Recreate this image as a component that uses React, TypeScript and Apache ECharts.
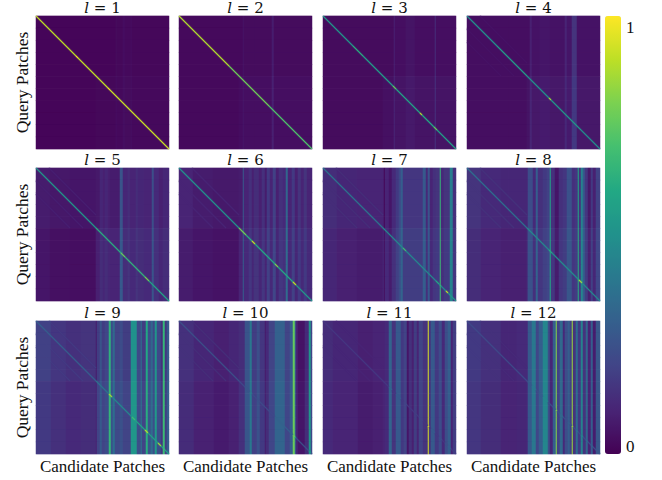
import React, { useEffect, useRef } from "react";
import * as echarts from "echarts";

type Run = [number, number];

const layers = [1, 2, 3, 4, 5, 6, 7, 8, 9, 10, 11, 12];
const axisSize = 133;
const rowCount = 11;
const upperRows = 5;
const blockColumn = 60;
const viridis = ["#440154", "#482475", "#414487", "#355f8d", "#2a788e", "#21918c", "#22a884", "#44bf70", "#7ad151", "#bddf26", "#fde725"];

// Column brightness as [column count, value 0..100]
const columnsL1: Run[] = [[80,1.5],[1,3],[6,2],[2,3.5],[6,2.5],[1,3.5],[37,2]];
const columnsL2: Run[] = [[64,2.5],[1,5],[28,3],[2,8],[38,3]];
const columnsL3: Run[] = [[71,3],[1,9],[11,4],[9,5.5],[20,4],[1,13],[20,4]];
const columnsL4: Run[] = [[63,4],[2,9],[8,5],[10,6],[15,5],[2,10],[5,6],[5,15],[23,5]];
const columnsL5: Run[] = [[14,8],[20,6.5],[26,6],[4,7],[3,11],[2,9],[3,11],[2,9],[10,8],[3,26],[5,11],[2,13],[6,10],[2,13],[6,11],[8,10],[2,24],[5,12],[4,9],[6,11]];
const columnsL6: Run[] = [[14,10],[20,8],[26,7],[4,8],[1,28],[5,10],[3,14],[2,9],[5,13],[3,9],[3,14],[2,8],[3,17],[3,10],[3,19],[3,9],[4,14],[3,12],[2,33],[4,10],[3,17],[3,9],[3,15],[3,10],[3,15],[5,10]];
const columnsL7: Run[] = [[14,13],[20,11],[27,10],[1,1],[4,10],[3,6],[4,12],[3,17],[2,22],[2,30],[5,16],[15,16],[3,28],[2,12],[2,26],[3,10],[3,14],[4,15],[1,66],[3,12],[6,15],[3,42],[3,14]];
const columnsL8: Run[] = [[14,15],[20,12],[27,11],[5,23],[3,12],[2,30],[5,14],[4,17],[3,19],[1,58],[4,14],[4,6],[4,14],[4,16],[5,25],[3,14],[3,16],[1,60],[2,14],[2,44],[2,28],[3,16],[3,7],[2,17],[3,9],[4,19]];
const columnsL9: Run[] = [[15,19],[15,16],[15,14],[15,15],[1,7],[3,18],[2,26],[3,18],[4,21],[2,64],[2,23],[2,34],[5,20],[3,23],[8,18],[6,50],[4,22],[1,36],[4,18],[2,60],[3,24],[2,33],[2,22],[2,52],[4,22],[2,14],[2,66],[2,16],[2,28]];
const columnsL10: Run[] = [[15,14],[20,11],[15,9],[10,11],[6,13],[5,26],[2,40],[5,18],[3,24],[5,16],[1,7],[3,12],[6,20],[10,31],[5,20],[3,28],[2,76],[1,30],[2,10],[7,5],[4,12],[2,52],[1,20]];
const columnsL11: Run[] = [[10,13],[25,11],[15,9],[12,10],[4,12],[3,32],[4,15],[5,28],[3,17],[3,20],[2,6],[3,14],[2,9],[3,18],[2,10],[4,20],[5,15],[1,94],[2,15],[4,28],[4,17],[3,23],[3,12],[3,24],[3,30],[2,10],[3,18]];
const columnsL12: Run[] = [[14,17],[20,14],[16,11],[11,12],[4,28],[4,40],[3,21],[4,30],[5,46],[2,24],[3,11],[3,30],[1,82],[3,19],[3,34],[2,12],[3,24],[2,30],[2,19],[1,85],[3,15],[2,36],[3,17],[2,44],[3,15],[2,33],[3,10],[2,30],[3,8],[4,27]];

// Main diagonal brightness as [cell count, value 0..100]
const diagonalL1: Run[] = [[40,90],[2,99],[30,91],[2,99],[59,92]];
const diagonalL2: Run[] = [[50,88],[40,78],[43,72]];
const diagonalL3: Run[] = [[30,52],[10,62],[30,55],[3,75],[24,58],[2,88],[12,60],[3,75],[19,56]];
const diagonalL4: Run[] = [[30,50],[30,55],[22,50],[2,85],[30,52],[19,48]];
const diagonalL5: Run[] = [[60,52],[25,62],[4,76],[20,64],[4,78],[20,58]];
const diagonalL6: Run[] = [[60,50],[7,78],[6,62],[3,90],[20,60],[3,80],[15,60],[3,90],[16,52]];
const diagonalL7: Run[] = [[60,38],[20,46],[3,68],[30,46],[3,60],[7,48],[2,90],[8,52]];
const diagonalL8: Run[] = [[60,36],[22,46],[3,60],[27,48],[3,85],[18,46]];
const diagonalL9: Run[] = [[60,30],[13,38],[3,85],[20,46],[3,68],[10,58],[3,88],[10,56],[3,85],[8,56]];
const diagonalL10: Run[] = [[60,24],[40,22],[14,30],[3,52],[16,24]];
const diagonalL11: Run[] = [[60,16],[73,16]];
const diagonalL12: Run[] = [[60,22],[73,24]];

const echoOffsets = [-26, -13, 13];
const echoValues = [0, 0, 0, 5, 8.5, 10, 13, 14, 17, 13, 10, 12];
const lowerLeftShift = [0, 0, 0, 0, -2, -2, -2, -2, -2, -1.5, -1, -1];
const lowerRightShift = [0.5, 1, 1.5, 1.5, 2, 2, 2, 2, 2, 1, 0, 0];

const allColumns = [columnsL1, columnsL2, columnsL3, columnsL4, columnsL5, columnsL6, columnsL7, columnsL8, columnsL9, columnsL10, columnsL11, columnsL12];
const allDiagonals = [diagonalL1, diagonalL2, diagonalL3, diagonalL4, diagonalL5, diagonalL6, diagonalL7, diagonalL8, diagonalL9, diagonalL10, diagonalL11, diagonalL12];

const panelLeft = [36, 179, 323, 467];
const panelTop = [16, 168, 321];

function expand(runs: Run[]): number[] {
  const out: number[] = [];
  runs.forEach(([n, v]) => {
    for (let i = 0; i < n; i++) out.push(v);
  });
  while (out.length < axisSize) out.push(runs[runs.length - 1][1]);
  return out.slice(0, axisSize);
}

const fineCategories = Array.from({ length: axisSize }, (_, i) => String(i));
const rowCategories = Array.from({ length: rowCount }, (_, i) => String(i));
const serif = '"Liberation Serif", serif';
const mathSerif = '"DejaVu Serif", serif';

function buildOption() {
  const grid: any[] = [];
  const xAxis: any[] = [];
  const yAxis: any[] = [];
  const series: any[] = [];
  const title: any[] = [];

  layers.forEach((layer, p) => {
    const col = p % 4;
    const row = Math.floor(p / 4);
    const rect = { left: panelLeft[col], top: panelTop[row], width: axisSize, height: axisSize };
    const columns = expand(allColumns[p]);
    const diagonal = expand(allDiagonals[p]);

    const coarse: number[][] = [];
    for (let r = 0; r < rowCount; r++) {
      for (let c = 0; c < axisSize; c++) {
        let v = columns[c];
        if (r >= upperRows) v += c < blockColumn ? lowerLeftShift[p] : lowerRightShift[p];
        coarse.push([c, r, Math.max(0, v)]);
      }
    }
    const fine: number[][] = [];
    for (let i = 0; i < axisSize; i++) {
      fine.push([i, i, Math.max(diagonal[i], columns[i])]);
      if (echoValues[p] > 0) {
        echoOffsets.forEach((o) => {
          const j = i + o;
          if (j >= 0 && j < blockColumn && i < blockColumn) fine.push([j, i, Math.max(echoValues[p], columns[j])]);
        });
      }
    }

    const base = grid.length;
    grid.push({ ...rect, containLabel: false }, { ...rect, containLabel: false });
    const hiddenLine = { show: false };
    xAxis.push(
      {
        gridIndex: base,
        type: "category",
        data: fineCategories,
        show: true,
        axisLine: hiddenLine,
        axisTick: hiddenLine,
        axisLabel: hiddenLine,
        splitLine: hiddenLine,
        name: row === 2 ? "Candidate Patches" : "",
        nameLocation: "middle",
        nameGap: 12,
        nameTextStyle: { fontFamily: serif, fontSize: 17, color: "#111", verticalAlign: "middle" },
      },
      { gridIndex: base + 1, type: "category", data: fineCategories, show: false }
    );
    yAxis.push(
      {
        gridIndex: base,
        type: "category",
        data: rowCategories,
        inverse: true,
        show: true,
        axisLine: hiddenLine,
        axisTick: hiddenLine,
        axisLabel: hiddenLine,
        splitLine: hiddenLine,
        name: col === 0 ? "Query Patches" : "",
        nameLocation: "middle",
        nameRotate: 90,
        nameGap: 14,
        nameTextStyle: { fontFamily: serif, fontSize: 17.5, color: "#111", verticalAlign: "middle" },
      },
      { gridIndex: base + 1, type: "category", data: fineCategories, inverse: true, show: false }
    );
    const common = { type: "heatmap", silent: true, progressive: 0, emphasis: { disabled: true }, label: { show: false } };
    series.push(
      { ...common, name: `l${layer} columns`, xAxisIndex: base, yAxisIndex: base, data: coarse },
      { ...common, name: `l${layer} diagonal`, xAxisIndex: base + 1, yAxisIndex: base + 1, data: fine }
    );
    title.push({
      text: `{i|l} = ${layer}`,
      left: panelLeft[col] + axisSize / 2,
      top: panelTop[row] - 16,
      textAlign: "center",
      padding: 0,
      textStyle: {
        fontFamily: mathSerif,
        fontSize: 15,
        fontWeight: "normal",
        color: "#111",
        rich: { i: { fontFamily: mathSerif, fontStyle: "italic", fontSize: 15, color: "#111" } },
      },
    });
  });

  return {
    animation: false,
    backgroundColor: "#fff",
    title,
    grid,
    xAxis,
    yAxis,
    series,
    tooltip: { show: false },
    visualMap: {
      type: "continuous",
      show: true,
      min: 0,
      max: 100,
      calculable: false,
      realtime: false,
      hoverLink: false,
      left: 605,
      top: 16,
      padding: 0,
      itemWidth: 16,
      itemHeight: 438,
      text: [],
      inRange: { color: viridis },
    },
    graphic: [
      { type: "text", x: 626, y: 19, style: { text: "1", font: `17px ${serif}`, fill: "#111" } },
      { type: "text", x: 626, y: 438, style: { text: "0", font: `17px ${serif}`, fill: "#111" } },
    ],
  };
}

export default function App() {
  const ref = useRef<HTMLDivElement>(null);
  useEffect(() => {
    document.body.style.margin = "0";
    const chart = echarts.init(ref.current!, undefined, { renderer: "svg" });
    chart.setOption(buildOption() as any);
    return () => chart.dispose();
  }, []);
  return <div ref={ref} style={{ position: "absolute", left: 0, top: 0, width: 662, height: 480 }} />;
}
